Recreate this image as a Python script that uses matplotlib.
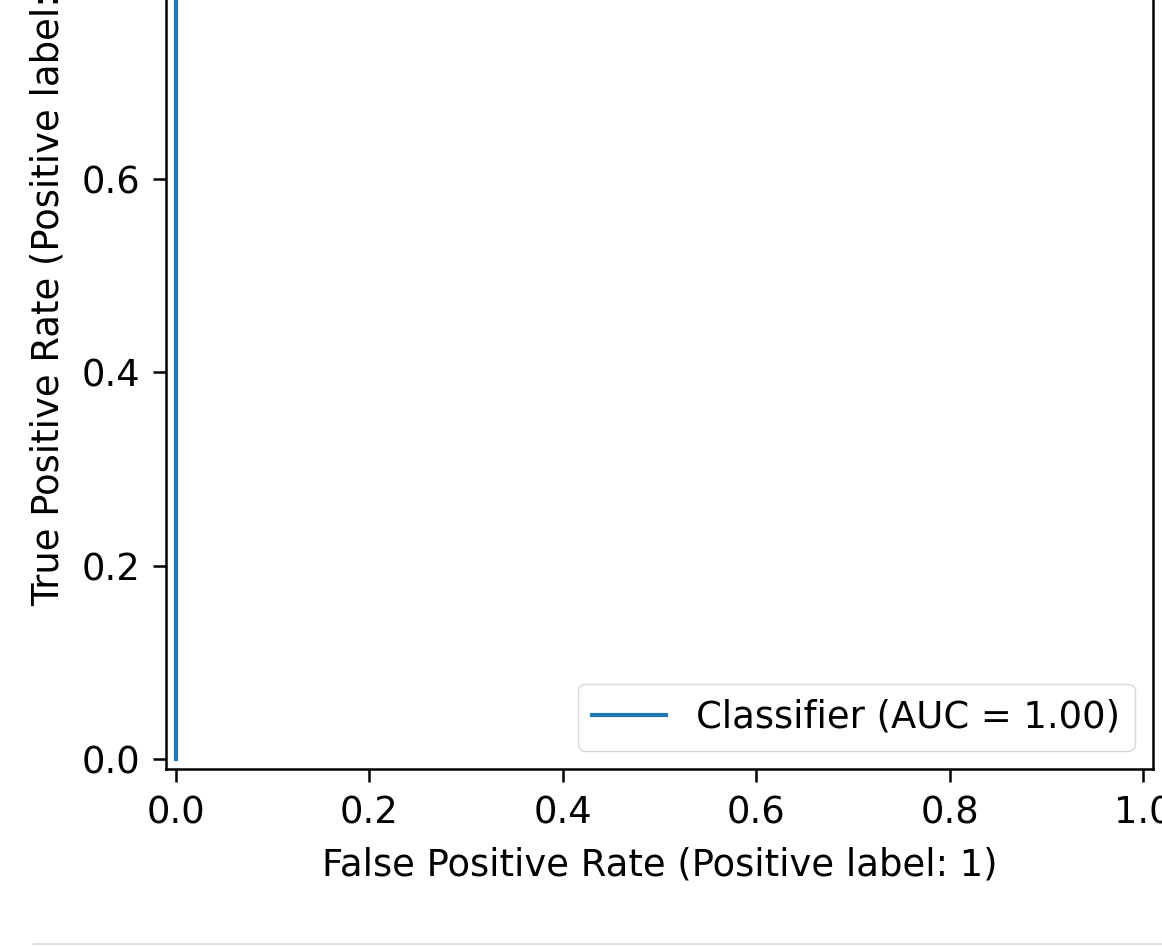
"""
ROC curve of a perfect classifier, drawn like sklearn's RocCurveDisplay
(screenshot is cropped at the top, so the figure clips the axes)
"""
import matplotlib
matplotlib.use('Agg')
import matplotlib.pyplot as plt
from matplotlib.lines import Line2D

# ── data ──
fpr = [0.0, 0.0, 1.0]
tpr = [0.0, 1.0, 1.0]
auc_value = 1.00
ticks = [0.0, 0.2, 0.4, 0.6, 0.8, 1.0]

# the screenshot was taken at ~2.66x the default scale
S = 2.66
plt.rcParams['font.family'] = ['DejaVu Sans']
plt.rcParams['font.size'] = 10 * S
plt.rcParams['axes.linewidth'] = 1.8
for axis in ('xtick', 'ytick'):
    plt.rcParams[f'{axis}.major.size'] = 3.5 * S
    plt.rcParams[f'{axis}.major.width'] = 1.8
    plt.rcParams[f'{axis}.major.pad'] = 3.5 * S
plt.rcParams['lines.linewidth'] = 3.0

W, H = 1162, 946
fig = plt.figure(figsize=(W / 100, H / 100), dpi=100)

# axes box in pixels: left 166, right 1153, bottom 769 (top is off-image)
left, right, bottom = 166, 1153, 769
side = right - left
ax = fig.add_axes([left / W, (H - bottom) / H, side / W, side / H])

ax.plot(fpr, tpr, color='#1f77b4', label=f"Classifier (AUC = {auc_value:.2f})")
ax.set_xlim(-0.01, 1.01)
ax.set_ylim(-0.01, 1.01)
ax.set_xticks(ticks)
ax.set_yticks(ticks)
ax.set_xlabel("False Positive Rate (Positive label: 1)", labelpad=4 * S)
ax.set_ylabel("True Positive Rate (Positive label: 1)", labelpad=4 * S)
ax.legend(loc='lower right')

# thin grey separator under the output (notebook cell border)
fig.add_artist(Line2D([34 / W, 1.0], [1 - 944 / H, 1 - 944 / H],
                      transform=fig.transFigure, color='#e0e0e0', linewidth=1.5))

fig.savefig("out.png", dpi=100, facecolor='white')
